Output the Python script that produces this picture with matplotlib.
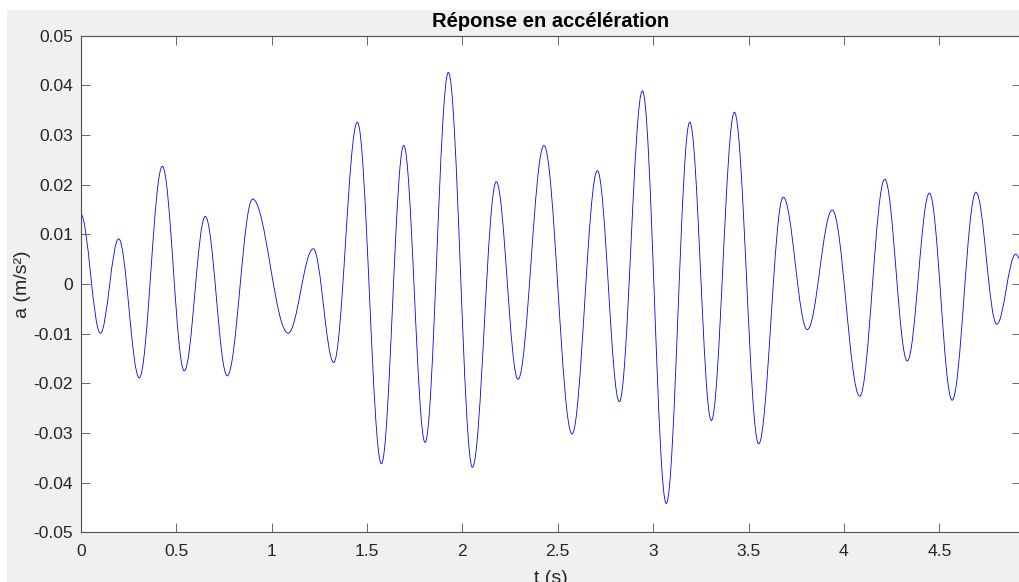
import matplotlib
matplotlib.use("Agg")
import matplotlib.pyplot as plt
from matplotlib.path import Path
from matplotlib.patches import PathPatch, Rectangle

# Successive extrema of the acceleration response
t_ext = [0.000, 0.103, 0.199, 0.307, 0.428, 0.543, 0.653, 0.768, 0.901, 1.087,
         1.219, 1.326, 1.450, 1.576, 1.693, 1.805, 1.927, 2.053, 2.178, 2.292,
         2.428, 2.575, 2.708, 2.823, 2.944, 3.069, 3.192, 3.305, 3.426, 3.553,
         3.682, 3.808, 3.939, 4.083, 4.214, 4.332, 4.448, 4.567, 4.692, 4.801,
         4.900, 4.930]
a_ext = [0.0141, -0.0099, 0.0091, -0.0189, 0.0237, -0.0175, 0.0136, -0.0185, 0.0171, -0.0099,
         0.0071, -0.0158, 0.0326, -0.0362, 0.0279, -0.0319, 0.0426, -0.0369, 0.0206, -0.0192,
         0.0279, -0.0302, 0.0228, -0.0237, 0.0389, -0.0442, 0.0326, -0.0275, 0.0346, -0.0322,
         0.0175, -0.0092, 0.0149, -0.0226, 0.0211, -0.0155, 0.0183, -0.0234, 0.0185, -0.0081,
         0.0060, 0.0047]

x_ticks = [0, 0.5, 1, 1.5, 2, 2.5, 3, 3.5, 4, 4.5]
x_ticklabels = ["0", "0.5", "1", "1.5", "2", "2.5", "3", "3.5", "4", "4.5"]
y_ticks = [-0.05, -0.04, -0.03, -0.02, -0.01, 0, 0.01, 0.02, 0.03, 0.04, 0.05]
y_ticklabels = ["-0.05", "-0.04", "-0.03", "-0.02", "-0.01", "0", "0.01", "0.02", "0.03", "0.04", "0.05"]

title = "Réponse en accélération"
xlabel = "t (s)"
ylabel = "a (m/s²)"

plt.rcParams["font.family"] = ["Liberation Sans", "DejaVu Sans"]
TXT = "#262626"
AX = "#4d4d4d"

W, H = 1019, 582
fig = plt.figure(figsize=(W / 100, H / 100), dpi=100, facecolor="white")
fig.patches.append(Rectangle((7 / W, 0), 1 - 7 / W, (H - 10) / H, transform=fig.transFigure,
                             facecolor="#f0f0f0", edgecolor="none", zorder=-10))

left, right = 80.7, 1021.0
top, bottom = 35.7, 532.3
ax = fig.add_axes([left / W, 1 - bottom / H, (right - left) / W, (bottom - top) / H])
ax.set_facecolor("white")

# smooth curve through successive extrema (cubic Bezier segments with flat tangents)
c = 0.364
verts = [(t_ext[0], a_ext[0])]
codes = [Path.MOVETO]
for i in range(len(t_ext) - 1):
    dt = t_ext[i + 1] - t_ext[i]
    verts += [(t_ext[i] + c * dt, a_ext[i]),
              (t_ext[i + 1] - c * dt, a_ext[i + 1]),
              (t_ext[i + 1], a_ext[i + 1])]
    codes += [Path.CURVE4] * 3
ax.add_patch(PathPatch(Path(verts, codes), facecolor="none", edgecolor="#0000ff", lw=0.6))

ax.set_xlim(0, 4.928)
ax.set_ylim(-0.05, 0.05)
ax.set_xticks(x_ticks)
ax.set_xticklabels(x_ticklabels)
ax.set_yticks(y_ticks)
ax.set_yticklabels(y_ticklabels)

for s in ax.spines.values():
    s.set_color(AX)
    s.set_linewidth(0.8)
ax.tick_params(axis="both", direction="in", length=6.5, width=0.6, color=AX,
               top=True, right=True, labelsize=12.6, labelcolor=TXT)
ax.tick_params(axis="x", pad=8.5)
ax.tick_params(axis="y", pad=5.5)

ax.set_title(title, fontsize=14.5, fontweight="bold", color="black", pad=6.5)
ax.set_xlabel(xlabel, fontsize=14, color=TXT, labelpad=7.5)
ax.set_ylabel(ylabel, fontsize=14, color=TXT, labelpad=1.5)

fig.savefig("out.png", dpi=100, facecolor=fig.get_facecolor())
